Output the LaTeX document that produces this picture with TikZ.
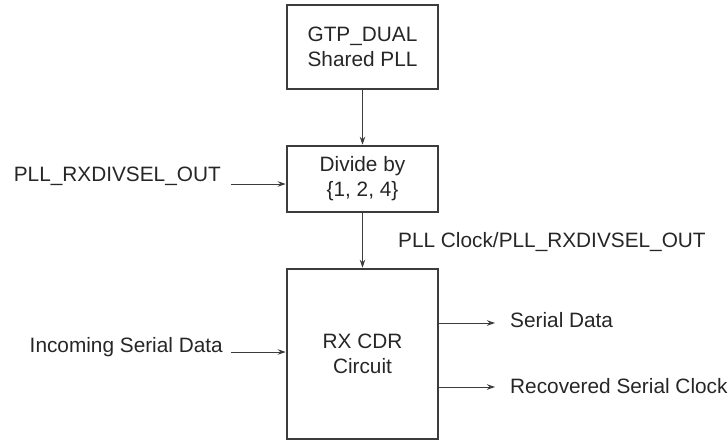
\documentclass[tikz,border=0pt]{standalone}
\usepackage{fontspec}
\setmainfont{Liberation Sans}
\usetikzlibrary{arrows.meta}
\definecolor{ink}{HTML}{262626}
\definecolor{wire}{HTML}{3C3C3C}
\tikzset{
  block/.style={draw=wire, line width=2.6pt, minimum width=151pt, align=center,
    inner sep=0pt, text=ink, font=\fontsize{20.8pt}{25pt}\selectfont},
  lbl/.style={inner sep=0pt, text=ink, font=\fontsize{20.8pt}{25pt}\selectfont},
  sig/.style={draw=wire, line width=1pt, -{Stealth[length=8pt,width=5.5pt]}}
}
\begin{document}
\begin{tikzpicture}[x=1pt,y=-1pt]
\useasboundingbox (0,0) rectangle (728,441);
% blocks
\node[block, minimum height=84pt] (pll) at (362.5,47) {GTP\_DUAL\\Shared PLL};
\node[block, minimum height=66pt] (div) at (362.5,179) {Divide by\\\{1, 2, 4\}};
\node[block, minimum height=170pt] (cdr) at (362.5,354) {RX CDR\\Circuit};
% free ends of the side connectors
\coordinate (selin) at (231,184);
\coordinate (datain) at (231,352);
\coordinate (dataout) at (495,323);
\coordinate (clkout) at (495,387);
% labels
\node[lbl, anchor=east] (sellbl) at (221,176) {PLL\_RXDIVSEL\_OUT};
\node[lbl, anchor=east] (inlbl) at (223,347) {Incoming Serial Data};
\node[lbl, anchor=west] (clklbl) at (398,242) {PLL Clock/PLL\_RXDIVSEL\_OUT};
\node[lbl, anchor=west] (sdlbl) at (510,320) {Serial Data};
\node[lbl, anchor=west] (rclbl) at (510,386) {Recovered Serial Clock};
% connectors
\draw[sig] (pll.south) -- (div.north);
\draw[sig] (div.south) -- (cdr.north);
\draw[sig] (selin) -- (selin -| div.west);
\draw[sig] (datain) -- (datain -| cdr.west);
\draw[sig] (dataout -| cdr.east) -- (dataout);
\draw[sig] (clkout -| cdr.east) -- (clkout);
\end{tikzpicture}
\end{document}
